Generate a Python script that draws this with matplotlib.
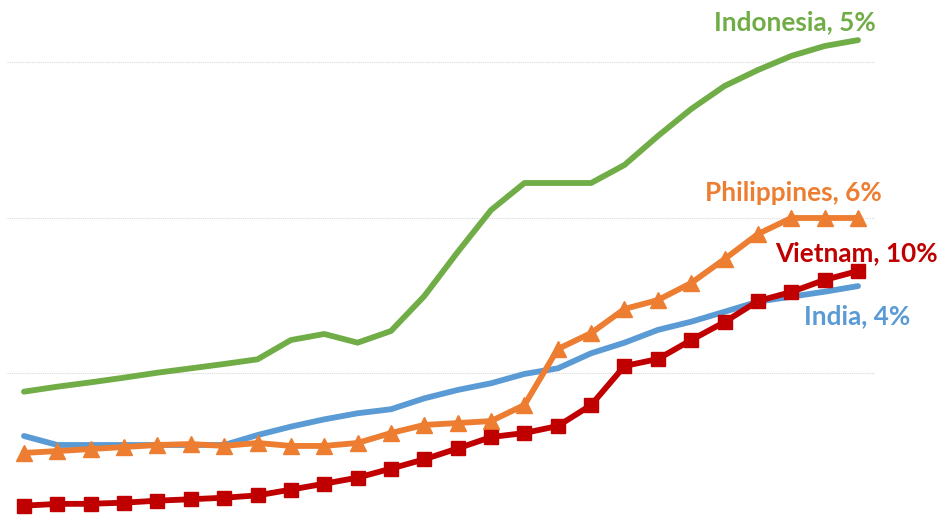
import matplotlib

matplotlib.use("Agg")
import matplotlib.pyplot as plt

# yearly index values, 26 periods
years = list(range(26))

indonesia = [8.80, 9.12, 9.40, 9.70, 10.02, 10.30, 10.58, 10.88, 12.12, 12.51,
             11.95, 12.70, 14.95, 17.78, 20.48, 22.22, 22.22, 22.22, 23.38, 25.24,
             26.98, 28.46, 29.49, 30.39, 31.03, 31.41]
philippines = [4.86, 4.98, 5.11, 5.24, 5.37, 5.43, 5.31, 5.50, 5.31, 5.31,
               5.50, 6.14, 6.66, 6.78, 6.91, 7.94, 11.54, 12.57, 14.12, 14.69,
               15.79, 17.33, 18.94, 19.97, 19.97, 19.97]
vietnam = [1.47, 1.58, 1.59, 1.66, 1.79, 1.88, 1.98, 2.13, 2.50, 2.88,
           3.27, 3.85, 4.45, 5.15, 5.88, 6.14, 6.59, 7.94, 10.45, 10.90,
           12.12, 13.28, 14.63, 15.21, 15.99, 16.56]
india = [5.95, 5.37, 5.37, 5.37, 5.37, 5.37, 5.37, 6.01, 6.55, 7.02,
         7.41, 7.67, 8.37, 8.91, 9.34, 9.94, 10.30, 11.27, 11.95, 12.77,
         13.30, 13.94, 14.59, 14.91, 15.23, 15.59]

GREEN = "#70AD47"
ORANGE = "#ED7D31"
RED = "#C00000"
BLUE = "#5B9BD5"

fig = plt.figure(figsize=(9.47, 5.27), dpi=100)
ax = fig.add_axes([7.3 / 947, 0, (874.7 - 7.3) / 947, 1])

ax.plot(years, india, color=BLUE, lw=4.2, solid_capstyle="round", zorder=3)
ax.plot(years, indonesia, color=GREEN, lw=4.2, solid_capstyle="round", zorder=3)
ax.plot(years, philippines, color=ORANGE, lw=4.2, marker="^", markersize=11, zorder=4)
ax.plot(years, vietnam, color=RED, lw=4.2, marker="s", markersize=9.5, zorder=5)

ax.set_xlim(-0.5, 25.5)
ax.set_ylim(0.096, 33.99)
ax.set_yticks([10, 20, 30])
ax.yaxis.grid(True, color="#d9d9d9", lw=0.8, ls=(0, (1, 1)))
ax.set_axisbelow(True)
ax.tick_params(left=False, bottom=False, labelleft=False, labelbottom=False)
for s in ax.spines.values():
    s.set_visible(False)

label_font = dict(fontsize=18.8, fontweight="bold", family="Lato", ha="right", va="center")
ax.text(25.54, 32.57, "Indonesia, 5%", color=GREEN, **label_font)
ax.text(25.72, 21.58, "Philippines, 6%", color=ORANGE, **label_font)
ax.text(27.40, 17.72, "Vietnam, 10%", color=RED, **label_font)
ax.text(26.56, 13.67, "India, 4%", color=BLUE, **label_font)

fig.savefig("out.png", dpi=100)
